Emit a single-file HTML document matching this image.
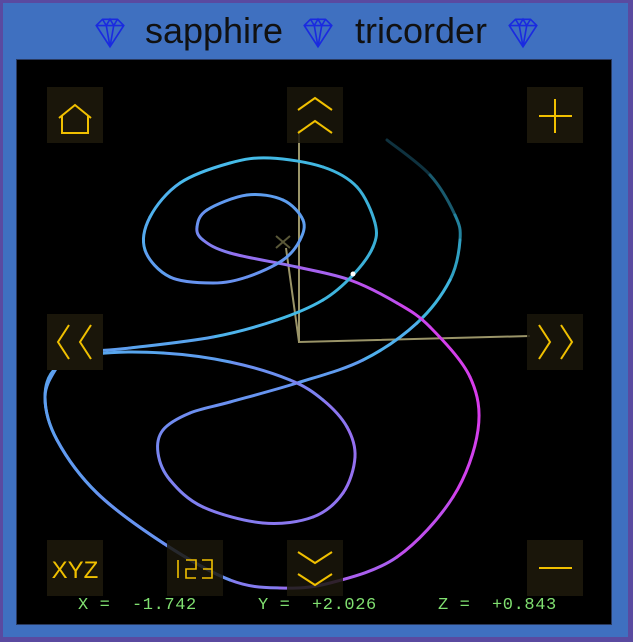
<!DOCTYPE html>
<html><head><meta charset="utf-8"><style>
html,body{margin:0;padding:0;}
body{width:633px;height:642px;overflow:hidden;background:#5a4aa0;position:relative;font-family:"Liberation Sans",sans-serif;}
#frame{position:absolute;left:3px;top:3px;width:625px;height:634px;background:#3f70c0;}
#panel{position:absolute;left:16px;top:59px;width:596px;height:566px;background:#000;border:1px solid #2a3a60;box-sizing:border-box;}
.read{position:absolute;top:596px;font-family:"Liberation Mono",monospace;font-size:17px;letter-spacing:0.6px;color:#80e070;white-space:pre;}
</style></head><body>
<div id="frame"></div>
<svg width="633" height="60" style="position:absolute;left:0;top:0">
 <g fill="none" stroke="#1a2ae0" stroke-width="1.3">
  <g transform="translate(110,33) scale(1.25)"><path d="M-11,-6 L-6,-11 L6,-11 L11,-6 L0,11 Z M-11,-6 L11,-6 M-6,-11 L-3,-6 L0,11 L3,-6 L6,-11 M-3,-6 L0,-11 L3,-6 M-11,-6 L0,11 M11,-6 L0,11"/></g>
  <g transform="translate(318,33) scale(1.25)"><path d="M-11,-6 L-6,-11 L6,-11 L11,-6 L0,11 Z M-11,-6 L11,-6 M-6,-11 L-3,-6 L0,11 L3,-6 L6,-11 M-3,-6 L0,-11 L3,-6 M-11,-6 L0,11 M11,-6 L0,11"/></g>
  <g transform="translate(523,33) scale(1.25)"><path d="M-11,-6 L-6,-11 L6,-11 L11,-6 L0,11 Z M-11,-6 L11,-6 M-6,-11 L-3,-6 L0,11 L3,-6 L6,-11 M-3,-6 L0,-11 L3,-6 M-11,-6 L0,11 M11,-6 L0,11"/></g>
 </g>
 <text x="214" y="43" font-size="36" fill="#111" text-anchor="middle" font-family="Liberation Sans, sans-serif">sapphire</text>
 <text x="421" y="43" font-size="36" fill="#111" text-anchor="middle" font-family="Liberation Sans, sans-serif">tricorder</text>
</svg>
<div id="panel"></div>
<svg id="plot" width="633" height="642" style="position:absolute;left:0;top:0"></svg>
<svg width="633" height="642" style="position:absolute;left:0;top:0" fill="none" stroke="#f0c000" stroke-width="2">
 <rect x="47" y="87" width="56" height="56" fill="#1a160a" stroke="none"/>
 <path d="M59,118 L75,105 L91,118 M62,116 V133 H88 V116"/>
 <rect x="287" y="87" width="56" height="56" fill="rgba(26,22,10,0.85)" stroke="none"/>
 <path d="M298,110 L315,98 L332,110 M298,133 L315,121 L332,133"/>
 <rect x="527" y="87" width="56" height="56" fill="#1a160a" stroke="none"/>
 <path d="M539,116 H572 M555,99 V133"/>
 <rect x="47" y="314" width="56" height="56" fill="#1a160a" stroke="none"/>
 <path d="M69,325 L58,342 L69,359 M91,325 L80,342 L91,359"/>
 <rect x="527" y="314" width="56" height="56" fill="rgba(26,22,10,0.85)" stroke="none"/>
 <path d="M539,325 L550,342 L539,359 M561,325 L572,342 L561,359"/>
 <rect x="47" y="540" width="56" height="56" fill="#1a160a" stroke="none"/>
 <text x="75" y="578" font-size="24" fill="#f0c000" stroke="none" text-anchor="middle" font-family="Liberation Sans, sans-serif">XYZ</text>
 <rect x="167" y="540" width="56" height="56" fill="rgba(26,22,10,0.85)" stroke="none"/>
 <path d="M178,560 V578 M186,560 H196 V569 H186 V578 H196 M202,560 H212 V578 H202 M203,569 H212" stroke-width="1.6"/>
 <rect x="287" y="540" width="56" height="56" fill="rgba(26,22,10,0.85)" stroke="none"/>
 <path d="M298,552 L315,563 L332,552 M298,574 L315,585 L332,574"/>
 <rect x="527" y="540" width="56" height="56" fill="#1a160a" stroke="none"/>
 <path d="M539,568 H572"/>
</svg>
<div class="read" style="left:78px">X =  -1.742</div>
<div class="read" style="left:258px">Y =  +2.026</div>
<div class="read" style="left:438px">Z =  +0.843</div>
<script>
// trajectory values (data units), oldest first
const xs=[0.88,1.31,1.56,1.61,1.51,1.18,0.64,-0.02,-0.69,-1.09,-1.36,-1.41,-1.29,-0.96,-0.36,0.14,0.44,0.56,0.48,0.24,-0.09,-0.69,-1.36,-2.02,-2.42,-2.54,-2.42,-2.02,-1.36,-0.69,-0.19,0.31,0.98,1.54,1.79,1.71,1.31,0.98,0.51,-0.02,-0.69,-0.96,-1.02,-0.92,-0.52,-0.16,0.04,0.01,-0.16,-0.52,-0.86,-1.29,-1.54,-1.49,-1.19,-0.69,-0.29,0.24,0.58,0.76,0.74,0.54,0.24,-0.22,-0.86,-1.69,-2.29,-2.42,-2.54,-2.42,-2.02,-1.36,-0.69,-0.19];
const ys=[2.02,1.67,1.27,1.02,0.62,0.19,-0.18,-0.41,-0.60,-0.71,-0.88,-1.11,-1.38,-1.65,-1.81,-1.75,-1.51,-1.15,-0.85,-0.58,-0.38,-0.20,-0.11,-0.12,-0.25,-0.55,-0.98,-1.51,-2.01,-2.38,-2.46,-2.41,-2.15,-1.55,-0.88,-0.35,0.15,0.39,0.62,0.75,0.89,1.02,1.15,1.32,1.47,1.42,1.22,1.02,0.82,0.65,0.59,0.65,0.92,1.25,1.59,1.79,1.84,1.75,1.55,1.19,0.95,0.67,0.42,0.22,0.05,-0.06,-0.12,-0.25,-0.55,-0.98,-1.51,-2.01,-2.38,-2.46];
const hues=[0,0.1,0.2,0.3,0.4,0.5,0.57,0.6,0.62,0.64,0.66,0.68,0.7,0.72,0.74,0.76,0.78,0.8,0.78,0.74,0.66,0.6,0.56,0.56,0.56,0.57,0.58,0.6,0.64,0.7,0.76,0.82,0.9,0.96,1,1,0.98,0.95,0.88,0.82,0.76,0.7,0.64,0.6,0.58,0.58,0.58,0.58,0.6,0.62,0.62,0.6,0.56,0.54,0.52,0.5,0.48,0.46,0.44,0.42,0.42,0.44,0.46,0.5,0.55,0.58,0.58,0.58,0.58,0.58,0.6,0.62,0.64,0.7];
const X0=299,Y0=342,S=100;
function sx(v){return X0+v*S;}
function sy(v){return Y0-v*S;}
function col(h){
 const stops=[[0,[10,30,40]],[0.3,[40,150,180]],[0.5,[70,190,235]],[0.6,[100,150,240]],[0.8,[150,110,240]],[1,[215,60,235]]];
 for(let i=1;i<stops.length;i++){if(h<=stops[i][0]){const a=stops[i-1],b=stops[i];const t=(h-a[0])/(b[0]-a[0]);const c=a[1].map((v,k)=>Math.round(v+(b[1][k]-v)*t));return 'rgb('+c.join(',')+')';}}
 return 'rgb(215,60,235)';
}
const NS='http://www.w3.org/2000/svg';
const svg=document.getElementById('plot');
function mk(tag,attrs){const e=document.createElementNS(NS,tag);for(const k in attrs)e.setAttribute(k,attrs[k]);svg.appendChild(e);return e;}
const ax=mk('path',{d:'M'+sx(0)+','+sy(2.12)+' V'+sy(0)+' L'+sx(2.31)+','+sy(0.06)+' M'+sx(0)+','+sy(0)+' L'+sx(-0.13)+','+sy(0.94),stroke:'#9a9468','stroke-width':2,fill:'none'});


const xm=mk('path',{d:'M276,236 L290,248 M276,248 L290,236',stroke:'#5a5838','stroke-width':2,fill:'none'});


const P=xs.map((v,i)=>[sx(v),sy(ys[i])]);
for(let i=0;i<P.length-2;i++){
 const p0=P[Math.max(0,i-1)],p1=P[i],p2=P[i+1],p3=P[Math.min(P.length-1,i+2)];
 const c1=[p1[0]+(p2[0]-p0[0])/6,p1[1]+(p2[1]-p0[1])/6],c2=[p2[0]-(p3[0]-p1[0])/6,p2[1]-(p3[1]-p1[1])/6];
 const seg=mk('path',{d:'M'+p1+' C'+c1+' '+c2+' '+p2,stroke:col((hues[i]+hues[i+1])/2),'stroke-width':3,fill:'none','stroke-linecap':'round'});
 
 
}
const dot=mk('circle',{cx:353,cy:274,r:2.5,fill:'#fff'});


</script>
</body></html>
